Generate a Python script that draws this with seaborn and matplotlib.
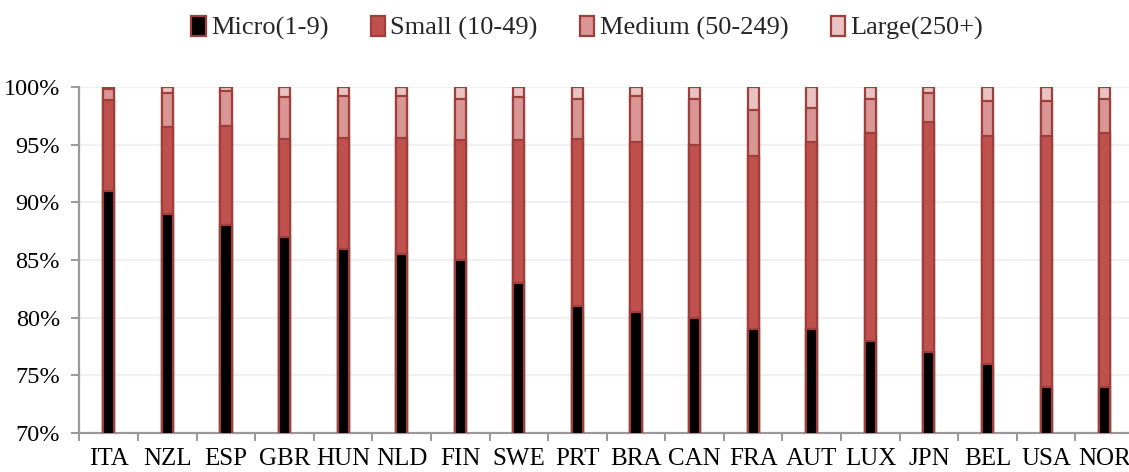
import numpy as np
import pandas as pd
import matplotlib
matplotlib.use("Agg")
import matplotlib.pyplot as plt
from matplotlib.patches import Patch
from matplotlib.ticker import FixedLocator, FuncFormatter
import seaborn as sns

# Share of enterprises by size class (%), per country
countries = ["ITA", "NZL", "ESP", "GBR", "HUN", "NLD", "FIN", "SWE", "PRT",
             "BRA", "CAN", "FRA", "AUT", "LUX", "JPN", "BEL", "USA", "NOR"]
micro = [91.0, 89.0, 88.0, 87.0, 86.0, 85.5, 85.0, 83.0, 81.0,
         80.5, 80.0, 79.0, 79.0, 78.0, 77.0, 76.0, 74.0, 74.0]
small = [7.9, 7.5, 8.6, 8.5, 9.6, 10.1, 10.4, 12.4, 14.5,
         14.7, 15.0, 15.0, 16.2, 18.0, 20.0, 19.8, 21.8, 22.0]
medium = [0.9, 3.0, 3.1, 3.6, 3.6, 3.6, 3.6, 3.7, 3.5,
          4.0, 4.0, 4.0, 3.0, 3.0, 2.5, 3.0, 3.0, 3.0]
large = [0.2, 0.5, 0.3, 0.9, 0.8, 0.8, 1.0, 0.9, 1.0,
         0.8, 1.0, 2.0, 1.8, 1.0, 0.5, 1.2, 1.2, 1.0]

series_names = ["Micro(1-9)", "Small (10-49)", "Medium (50-249)", "Large(250+)"]
fill_colors = ["#000000", "#C0504D", "#D99694", "#E8C3C1"]
edge_color = "#9E3F3C"

sns.set_theme(style="white")
plt.rcParams["font.family"] = ["Liberation Serif", "DejaVu Serif"]

shares = np.array([micro, small, medium, large])
tops = np.cumsum(shares, axis=0)

df = pd.DataFrame({"country": countries})
for name, top in zip(series_names, tops):
    df[name] = top

fig = plt.figure(figsize=(11.29, 4.72), dpi=100)
ax = fig.add_axes([0.0704, 0.0825, 0.934, 0.733])

# Stacked bars: draw cumulative totals from the tallest layer down
for name, color in reversed(list(zip(series_names, fill_colors))):
    sns.barplot(data=df, x="country", y=name, color=color, width=0.19,
                edgecolor=edge_color, linewidth=1.6, saturation=1,
                ax=ax, zorder=3)

ax.set_ylim(70, 100)
ax.set_xlim(-0.5, len(countries) - 0.5)
ax.set_xlabel("")
ax.set_ylabel("")

ax.yaxis.set_major_locator(FixedLocator(np.arange(70, 101, 5)))
ax.yaxis.set_major_formatter(FuncFormatter(lambda v, _: f"{v:.0f}%"))
ax.grid(axis="y", color="#F0F0F0", linewidth=1.6, zorder=0)
ax.set_axisbelow(True)

for side in ["top", "right"]:
    ax.spines[side].set_visible(False)
for side in ["left", "bottom"]:
    ax.spines[side].set_color("#9A9A9A")
    ax.spines[side].set_linewidth(1.6)

ax.set_xticks(range(len(countries)))
ax.set_xticklabels(countries)
ax.set_xticks(np.arange(-0.5, len(countries), 1.0), minor=True)
ax.tick_params(axis="x", which="major", length=0, pad=11, labelsize=18,
               colors="black")
ax.tick_params(axis="x", which="minor", length=6, width=1.4,
               color="#9A9A9A", bottom=True)
ax.tick_params(axis="y", which="major", length=6, width=1.4,
               color="#9A9A9A", pad=8, labelsize=17.5, left=True,
               labelcolor="black")

handles = [Patch(facecolor=c, edgecolor=edge_color, linewidth=1.6, label=n)
           for n, c in zip(series_names, fill_colors)]
fig.legend(handles=handles, loc="center", bbox_to_anchor=(0.52, 0.94),
           ncol=4, frameon=False, fontsize=19, handlelength=0.55,
           handleheight=0.75, handletextpad=0.2, columnspacing=1.6)

fig.savefig("out.png", dpi=100)
